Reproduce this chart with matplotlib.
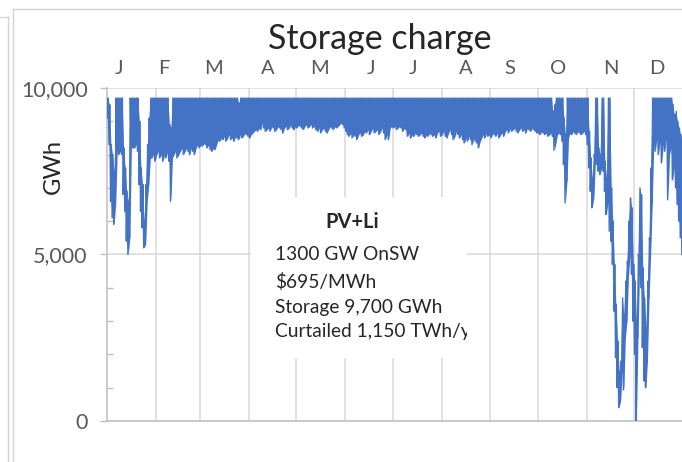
import numpy as np
import matplotlib
matplotlib.use("Agg")
import matplotlib.pyplot as plt
from matplotlib.lines import Line2D
from matplotlib.patches import Rectangle
from matplotlib.transforms import Bbox, TransformedBbox

plt.rcParams['font.family'] = ['Lato', 'DejaVu Sans']

# ---------------- data (daily high / low storage charge, GWh) ----------------
months = ['J', 'F', 'M', 'A', 'M', 'J', 'J', 'A', 'S', 'O', 'N', 'D']
month_days = [31, 28, 31, 30, 31, 30, 31, 31, 30, 31, 30, 31]

jan_high = [9700, 9500, 8300, 8000, 7500, 9700, 9700, 9700, 9700, 9700, 8200, 7600, 6900, 6600, 9700, 9700,
            9700, 9700, 9700, 9700, 9000, 7600, 7100, 6000, 7100, 8300, 9100, 9700, 9700, 9700, 9700]
jan_low = [9100, 8300, 6600, 6100, 5900, 6500, 8100, 8000, 8100, 8000, 6800, 6300, 5400, 5000, 5500, 8300,
           8200, 8200, 8300, 8100, 7100, 6300, 5800, 5200, 5300, 6600, 7100, 7900, 7900, 8000, 7800]
feb_high = [9700, 9700, 9700, 9700, 9700, 9700, 9700, 9700, 8900, 8800, 9700, 9700, 9700, 9700,
            9700, 9700, 9700, 9700, 9700, 9700, 9700, 9700, 9700, 9700, 9700, 9700, 9700, 9700]
feb_low = [8000, 8100, 7900, 8000, 7800, 8000, 7900, 8100, 7800, 6600, 7900, 8000, 8100, 7900,
           8000, 8100, 8200, 8000, 8100, 8200, 8100, 8000, 8200, 8100, 8000, 8200, 8300, 8200]
mar_high = [9700, 9700, 9700, 9700, 9700, 9700, 9700, 9700, 9700, 9700, 9700, 9700, 9700, 9700, 9700, 9700,
            9700, 9700, 9700, 9700, 9700, 9700, 9700, 9700, 9550, 9700, 9700, 9700, 9700, 9700, 9700]
mar_low = [8300, 8250, 8350, 8300, 8200, 8300, 8150, 8100, 8200, 8150, 8300, 8450, 8400, 8500, 8450, 8550,
           8400, 8500, 8600, 8450, 8500, 8400, 8550, 8500, 8450, 8600, 8500, 8550, 8650, 8600, 8550]
apr_high = [9700, 9700, 9700, 9700, 9700, 9700, 9700, 9700, 9700, 9700, 9700, 9700, 9700, 9700, 9700,
            9700, 9700, 9700, 9700, 9700, 9700, 9700, 9700, 9700, 9700, 9700, 9700, 9700, 9700, 9700]
apr_low = [8500, 8600, 8650, 8700, 8750, 8700, 8800, 8750, 8950, 8800, 8700, 8750, 8800, 8700, 8850,
           8800, 8700, 8750, 8850, 8800, 8750, 8650, 8800, 8850, 8750, 8800, 8900, 8800, 8750, 8850]
may_high = [9700, 9700, 9700, 9700, 9700, 9700, 9700, 9700, 9700, 9700, 9700, 9700, 9700, 9700, 9700, 9700,
            9700, 9700, 9700, 9700, 9700, 9700, 9700, 9700, 9700, 9700, 9700, 9700, 9700, 9700, 9700]
may_low = [8800, 8900, 8850, 8800, 8750, 8850, 8900, 8800, 8850, 8900, 8800, 8850, 8750, 8700, 8800, 8650,
           8750, 8800, 8700, 8650, 8750, 8850, 8800, 8750, 8850, 8800, 8850, 8900, 8950, 8900, 8800]
jun_high = [9700, 9700, 9700, 9700, 9700, 9700, 9700, 9700, 9700, 9700, 9700, 9700, 9700, 9700, 9700,
            9700, 9700, 9700, 9700, 9700, 9700, 9700, 9700, 9700, 9700, 9700, 9700, 9700, 9700, 9700]
jun_low = [8700, 8600, 8550, 8650, 8500, 8600, 8550, 8450, 8600, 8650, 8550, 8600, 8700, 8650, 8750,
           8600, 8700, 8800, 8650, 8700, 8750, 8600, 8700, 8800, 8650, 8450, 8600, 8450, 8800, 8850]
jul_high = [9700, 9700, 9700, 9700, 9700, 9700, 9700, 9700, 9700, 9700, 9700, 9700, 9700, 9700, 9700, 9700,
            9700, 9700, 9700, 9700, 9700, 9700, 9700, 9700, 9700, 9700, 9700, 9700, 9700, 9700, 9700]
jul_low = [8800, 8850, 8750, 8800, 8850, 8800, 8700, 8800, 8750, 8550, 8650, 8500, 8600, 8550, 8650, 8600,
           8550, 8600, 8650, 8550, 8500, 8600, 8550, 8650, 8600, 8550, 8600, 8500, 8650, 8700, 8550]
aug_high = [9700, 9700, 9700, 9700, 9700, 9700, 9700, 9700, 9700, 9700, 9700, 9700, 9700, 9700, 9700, 9700,
            9700, 9700, 9700, 9700, 9700, 9700, 9700, 9700, 9700, 9700, 9700, 9700, 9700, 9700, 9700]
aug_low = [8600, 8700, 8550, 8500, 8650, 8750, 8600, 8450, 8550, 8700, 8600, 8500, 8600, 8450, 8350, 8500,
           8400, 8550, 8450, 8300, 8500, 8400, 8350, 8200, 8400, 8500, 8600, 8500, 8650, 8550, 8600]
sep_high = [9700, 9700, 9700, 9700, 9700, 9700, 9700, 9700, 9700, 9700, 9700, 9700, 9700, 9700, 9700,
            9700, 9700, 9700, 9700, 9700, 9700, 9700, 9700, 9700, 9700, 9700, 9700, 9700, 9700, 9700]
sep_low = [8500, 8650, 8600, 8550, 8650, 8500, 8600, 8650, 8550, 8700, 8750, 8650, 8800, 8700, 8750,
           8800, 8700, 8650, 8750, 8800, 8700, 8750, 8650, 8800, 8750, 8700, 8800, 8750, 8700, 8650]
oct_high = [9700, 9700, 9700, 9700, 9700, 9700, 9700, 9700, 9700, 9300, 9500, 9700, 9700, 9700, 9700, 9700,
            9100, 8600, 9700, 9700, 9700, 9700, 9700, 9700, 9700, 9700, 9700, 9700, 9700, 9700, 9700]
oct_low = [8650, 8600, 8700, 8650, 8600, 8650, 8550, 8600, 8650, 8550, 8130, 8350, 8600, 8650, 8600, 8400,
           7700, 6550, 7200, 8500, 8650, 8600, 8700, 8650, 8600, 8700, 8650, 8600, 8650, 8700, 8600]
nov_high = [9700, 8700, 7900, 7300, 8000, 9700, 9700, 8200, 8000, 9700, 9700, 7800, 7300, 9700, 9700,
            7000, 6000, 4700, 3500, 2400, 1500, 1800, 3700, 3200, 4200, 4800, 6000, 6700, 6400, 4700]
nov_low = [8300, 7600, 6900, 6400, 6700, 7800, 7700, 7500, 7400, 7600, 7500, 6900, 6200, 6600, 5700,
           5400, 4700, 3300, 1900, 1000, 400, 600, 1500, 930, 2500, 3000, 4400, 5000, 4400, 3000]
dec_high = [4200, 3000, 5000, 7000, 6800, 4600, 3700, 2800, 4200, 5500, 7600, 9700, 9700, 9700, 9700, 9700,
            9700, 9700, 9700, 9700, 9700, 9700, 9700, 9700, 9500, 9200, 9300, 9000, 8800, 8600, 8300]
dec_low = [2000, 0, 2500, 4600, 4000, 2200, 1200, 1000, 1800, 3700, 5000, 6500, 8300, 8100, 8500, 8000,
           8400, 7750, 8300, 8100, 8500, 6640, 8000, 8200, 7240, 7600, 7000, 6500, 6000, 5500, 5000]

daily_high = np.array(jan_high + feb_high + mar_high + apr_high + may_high + jun_high +
                      jul_high + aug_high + sep_high + oct_high + nov_high + dec_high, dtype=float)
daily_low = np.array(jan_low + feb_low + mar_low + apr_low + may_low + jun_low +
                     jul_low + aug_low + sep_low + oct_low + nov_low + dec_low, dtype=float)

box_title = 'PV+Li'
box_lines = ['1300 GW OnSW', '$695/MWh', 'Storage 9,700 GWh', 'Curtailed 1,150 TWh/y']

# ---------------- figure ----------------
W, H = 682, 462
fig = plt.figure(figsize=(W / 100, H / 100), dpi=100)
fig.patch.set_facecolor('white')

def fx(px):
    return px / W

def fy(py):
    return 1 - py / H

# chart-area borders (Excel look)
border = '#d4d4d4'
fig.add_artist(Line2D([fx(13), fx(13)], [fy(9), fy(462)], color=border, lw=1.0))
fig.add_artist(Line2D([fx(13), fx(682)], [fy(9), fy(9)], color=border, lw=1.0))
fig.add_artist(Line2D([fx(8), fx(8)], [fy(17), fy(462)], color=border, lw=1.0))
fig.add_artist(Line2D([fx(0), fx(8)], [fy(17), fy(17)], color=border, lw=1.0))

x0, x1, ytop, ybot = 107, 683, 88, 421
ax = fig.add_axes([fx(x0), fy(ybot), (x1 - x0) / W, (ybot - ytop) / H])

blue = '#4472C4'
n_days = len(daily_high)
days = np.arange(n_days)
ax.fill_between(days + 0.5, daily_low, daily_high, color=blue, lw=0, zorder=3)
xs = (np.repeat(days, 2) + np.tile([0.25, 0.75], n_days))
ys = np.column_stack([daily_low, daily_high]).ravel()
ax.plot(xs, ys, color=blue, lw=1.0, zorder=3)

ax.set_xlim(0, 365)
ax.set_ylim(0, 10000)

# gridlines
grid_c = '#d9d9d9'
bounds = np.cumsum(month_days)[:-1]
ax.set_xticks(bounds)
ax.xaxis.grid(True, color=grid_c, lw=1.1)
ax.tick_params(axis='x', length=0, labelbottom=False)
ax.set_yticks([0, 5000, 10000])
ax.set_yticklabels(['0', '5,000', '10,000'])
ax.set_yticks(np.arange(1000, 10000, 1000), minor=True)
ax.yaxis.grid(True, which='major', color=grid_c, lw=1.1)
ax.tick_params(axis='y', which='major', direction='out', length=5, width=1.0, color='#bfbfbf',
               labelsize=15.5, labelcolor='#595959', pad=9)
ax.tick_params(axis='y', which='minor', direction='in', length=4, width=1.0, color='#bfbfbf')
ax.set_axisbelow(True)
for s in ['top', 'right']:
    ax.spines[s].set_visible(False)
for s in ['left', 'bottom']:
    ax.spines[s].set_color('#bfbfbf')
    ax.spines[s].set_linewidth(1.1)
ax.spines['left'].set_zorder(1)

# month labels on top
label_px = [119, 164, 214, 268, 320, 371, 413, 466, 510, 558, 611, 657]
for m, px in zip(months, label_px):
    fig.text(fx(px), fy(69), m, ha='center', va='center', fontsize=14.5, color='#595959')

fig.text(fx(380), fy(39), 'Storage charge', ha='center', va='center', fontsize=24.5, color='#262626')
fig.text(fx(53), fy(167), 'GWh', ha='center', va='center', rotation=90, fontsize=17, color='#262626')

# annotation box
bx0, bx1, by0, by1 = (251 - x0) / 576, (467 - x0) / 576, (421 - 358) / 333, (421 - 197) / 333
rect = Rectangle((bx0, by0), bx1 - bx0, by1 - by0, transform=ax.transAxes, facecolor='white',
                 edgecolor='none', zorder=2)
ax.add_patch(rect)
clipbox = TransformedBbox(Bbox([[bx0, by0], [bx1, by1]]), ax.transAxes)
ax.text((352 - x0) / 576, (421 - 222) / 333, box_title, transform=ax.transAxes, ha='center',
        va='center', fontsize=14.5, fontweight='bold', color='#262626', zorder=4)
line_py = [254, 282, 307, 332]
for t, py in zip(box_lines, line_py):
    tt = ax.text((275 - x0) / 576, (421 - py) / 333, t, transform=ax.transAxes, ha='left',
                 va='center', fontsize=13.8, color='#262626', zorder=4)
    tt.set_clip_on(True)
    tt.set_clip_box(clipbox)

fig.savefig('out.png', dpi=100)
